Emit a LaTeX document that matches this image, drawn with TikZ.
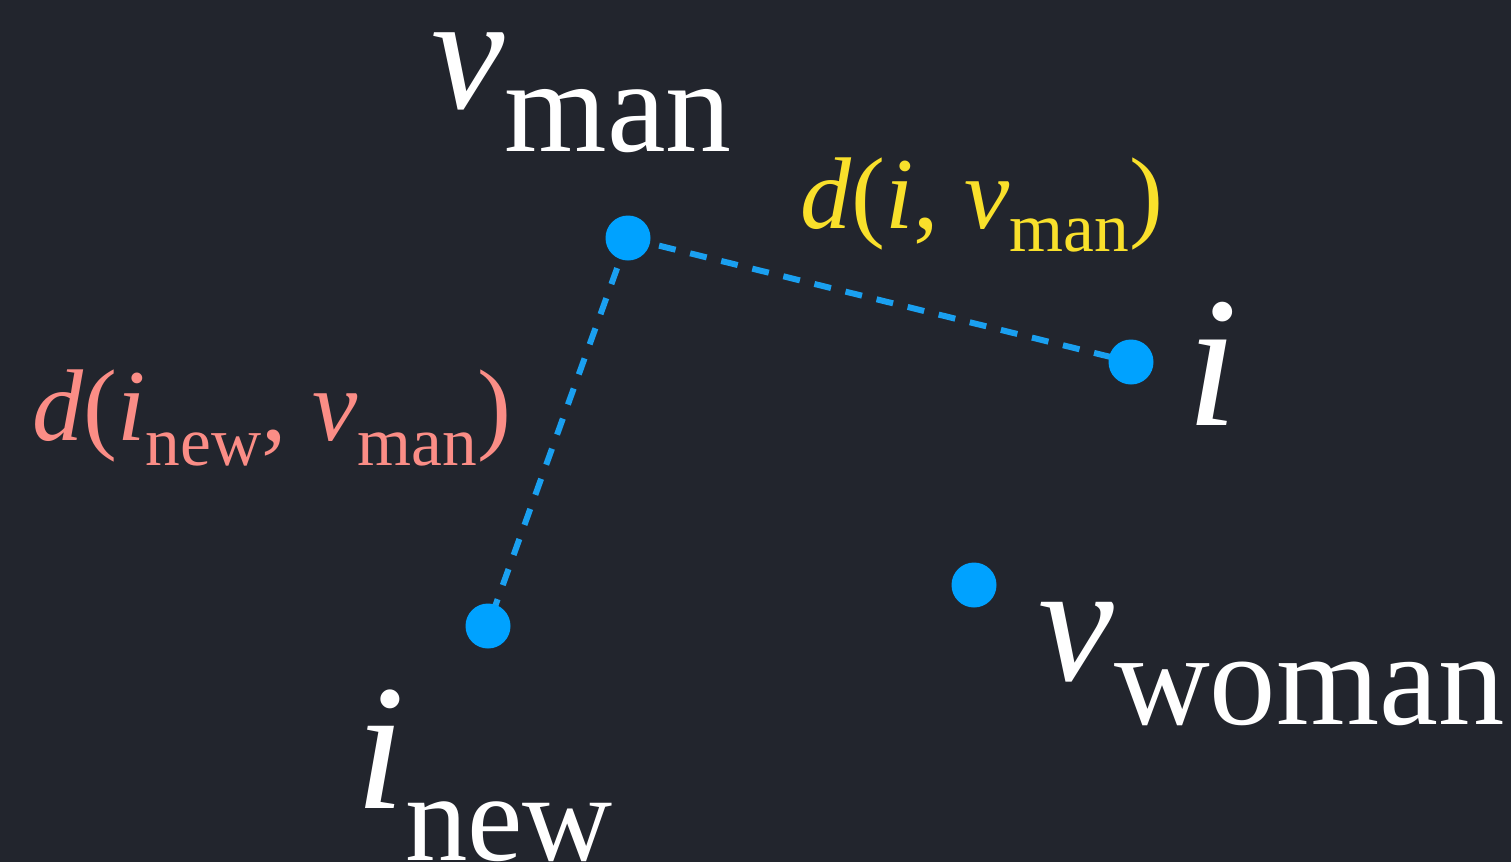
\documentclass[tikz,border=0pt]{standalone}
\usepackage{fontspec}
\setmainfont{Liberation Serif}
\definecolor{bg}{HTML}{22252D}
\definecolor{dotc}{HTML}{00A2FF}
\definecolor{dashc}{HTML}{1AA0F0}
\definecolor{yel}{HTML}{F9E02B}
\definecolor{sal}{HTML}{FB8D86}
\newcommand\lsub[3]{\raisebox{-#2}{\fontsize{#1}{#1}\selectfont #3}}
\tikzset{
  pt/.style={circle,fill=dotc,inner sep=0pt,minimum size=45*0.02cm},
  lbl/.style={text=white,inner sep=0pt,anchor=base west},
  link/.style={dashc,line width=6*0.02cm,dash pattern=on 17*0.02cm off 15*0.02cm}
}
\begin{document}
\begin{tikzpicture}[x=0.02cm,y=-0.02cm]
\fill[bg] (0,0) rectangle (1511,862);
\useasboundingbox (0,0) rectangle (1511,862);
\coordinate (cman) at (628,238);
\coordinate (ci) at (1131,362);
\coordinate (cnew) at (488,626);
\coordinate (cwoman) at (974,585);
\draw[link] (cman) -- (ci);
\draw[link] (cman) -- (cnew);
\node[pt] (man) at (cman) {};
\node[pt] (i) at (ci) {};
\node[pt] (new) at (cnew) {};
\node[pt] (woman) at (cwoman) {};
\node[lbl,text height=1.8cm,font=\fontsize{94pt}{100pt}\selectfont] (lman) at (431,108) {\textit{v}\lsub{75pt}{0.88cm}{man}};
\node[lbl,font=\fontsize{106pt}{110pt}\selectfont] (li) at (1186,425) {\textit{i}};
\node[lbl,text depth=1.06cm,font=\fontsize{102pt}{110pt}\selectfont] (lnew) at (355,808) {\textit{i}\lsub{71pt}{1.04cm}{new}};
\node[lbl,font=\fontsize{97pt}{100pt}\selectfont] (lwoman) at (1038,680) {\textit{v}\lsub{75.5pt}{0.9cm}{woman}};
\node[lbl,text=yel,font=\fontsize{58pt}{62pt}\selectfont] (dy) at (800,228) {\textit{d}(\textit{i}, \textit{v}\lsub{39.5pt}{0.48cm}{man})};
\node[lbl,text=sal,font=\fontsize{58pt}{62pt}\selectfont] (ds) at (32,440) {\textit{d}(\textit{i}\lsub{39.5pt}{0.5cm}{new}, \textit{v}\lsub{39.5pt}{0.5cm}{man})};
\end{tikzpicture}
\end{document}
